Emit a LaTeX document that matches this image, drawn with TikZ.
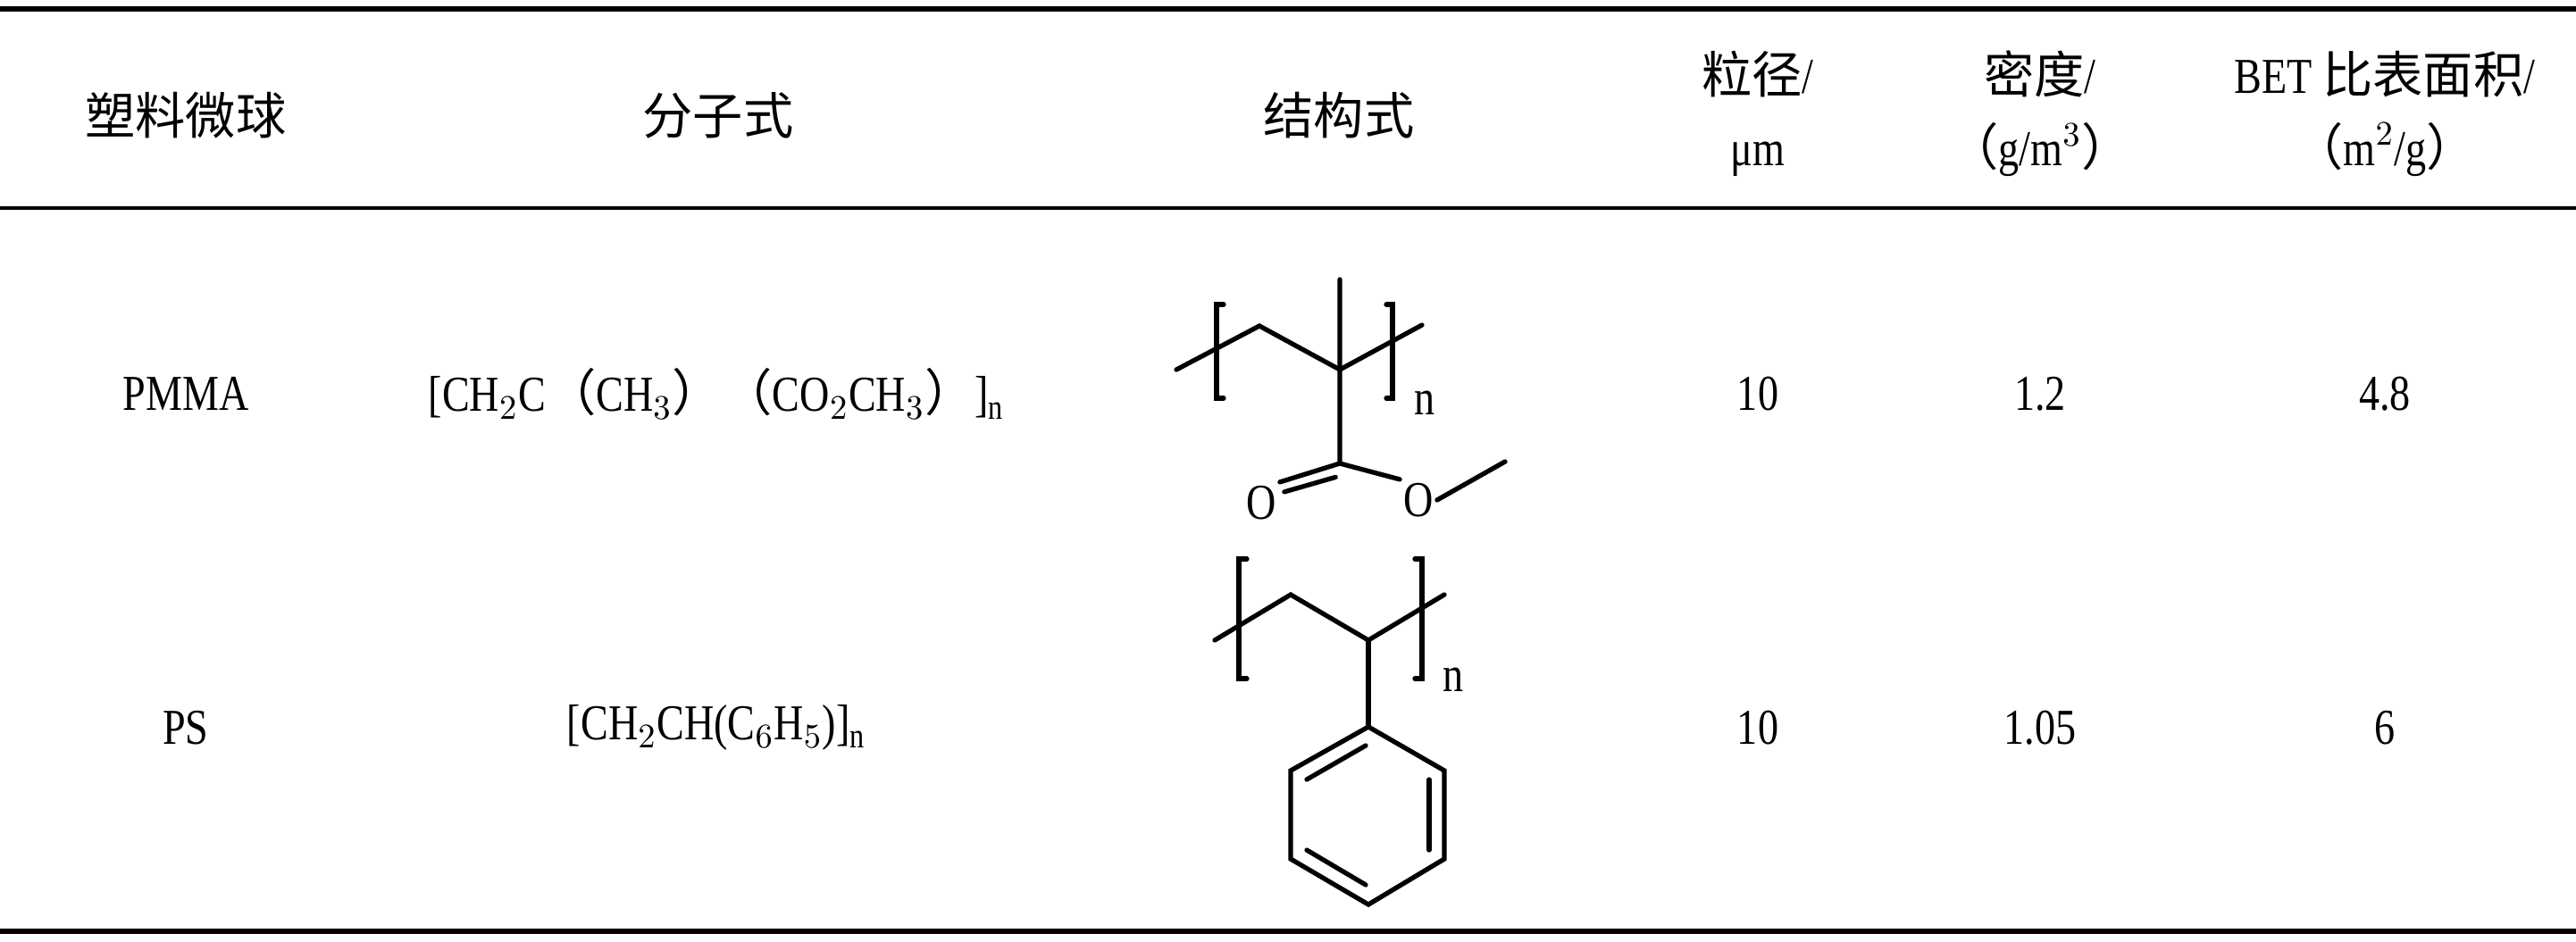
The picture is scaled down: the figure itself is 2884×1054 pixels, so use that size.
\documentclass[tikz,border=0pt]{standalone}
\usepackage{fontspec}
\setmainfont{Liberation Serif}[FakeStretch=0.82]
\newfontfamily\cjk{Noto Sans CJK SC}
\newcommand{\lp}{{\cjk （}}
\newcommand{\rp}{{\cjk ）}}
\usetikzlibrary{positioning}
\usetikzlibrary{calc}
\tikzset{
  cell/.style={font=\fontsize{16}{19}\selectfont, align=center, inner sep=0pt},
  bond/.style={line width=1.5pt, line cap=round},
  atom/.style={font=\fontsize{16}{19}\selectfont, inner sep=1pt, fill=white}
}
\begin{document}
\begin{tikzpicture}[x=0.01cm, y=-0.01cm]
	\useasboundingbox (0,0) rectangle (2884,1054);
	% rules
	\draw[line width=1.6pt] (0,10) -- (2884,10);
	\draw[line width=0.9pt] (0,233) -- (2884,233);
	\draw[line width=1.6pt] (0,1043) -- (2884,1043);
	% header
	\node[cell] (h1) at (208,129) {\cjk 塑料微球};
	\node[cell] (h2) at (804,129) {\cjk 分子式};
	\node[cell] (h3) at (1499,129) {\cjk 结构式};
	\node[cell] (h4) at (1968,127) {{\cjk 粒径}/\\[4pt]μm};
	\node[cell] (h5) at (2284,127) {{\cjk 密度}/\\[4pt]\lp g/m$^3$\rp};
	\node[cell] (h6) at (2670,127) {BET {\cjk 比表面积}/\\[4pt]\lp m$^2$/g\rp};
	% PMMA row
	\node[cell] (r1a) at (208,441) {PMMA};
	\node[cell] (r1b) at (804,441) {[CH$_2$C\lp CH$_3$\rp\lp CO$_2$CH$_3$\rp]$_\mathrm{n}$};
	\node[cell] (r1d) at (1968,441) {10};
	\node[cell] (r1e) at (2284,441) {1.2};
	\node[cell] (r1f) at (2670,441) {4.8};
	% PS row
	\node[cell] (r2a) at (208,815) {PS};
	\node[cell] (r2b) at (804,815) {[CH$_2$CH(C$_6$H$_5$)]$_\mathrm{n}$};
	\node[cell] (r2d) at (1968,815) {10};
	\node[cell] (r2e) at (2284,815) {1.05};
	\node[cell] (r2f) at (2670,815) {6};
	% PMMA structure
	\coordinate (pa) at (1317,414);
	\coordinate (pb) at (1410,365);
	\coordinate (pc) at (1500,414);
	\coordinate (pd) at (1592,364);
	\coordinate (pm) at (1500,313);
	\coordinate (pe) at (1500,519);
	\node[atom] (po1) at (1412,563) {O};
	\node[atom] (po2) at (1588,560) {O};
	\coordinate (pf) at (1685,517);
	\draw[bond] (pa) -- (pb) -- (pc) -- (pd);
	\draw[bond] (pm) -- (pc) -- (pe) -- (po2.north west);
	\draw[bond] (po2.east) -- (pf);
	\draw[bond] (pe) -- (po1.north east);
	\draw[bond] ($(pe)!0.1!(po1)+(4,11)$) -- ($(po1.north east)+(5,11)$);
	\draw[bond] (1370,341) -- (1362,341) -- (1362,446) -- (1370,446);
	\draw[bond] (1552,341) -- (1559,341) -- (1559,446) -- (1552,446);
	\node[atom, fill=none] (pn) at (1595,451) {n};
	% PS structure
	\coordinate (sa) at (1360,717);
	\coordinate (sb) at (1445,666);
	\coordinate (sc) at (1532,717);
	\coordinate (sd) at (1617,666);
	\draw[bond] (sa) -- (sb) -- (sc) -- (sd);
	\draw[bond] (1396,626) -- (1387,626) -- (1387,760) -- (1396,760);
	\draw[bond] (1584,626) -- (1592,626) -- (1592,760) -- (1584,760);
	\node[atom, fill=none] (sn) at (1627,761) {n};
	\coordinate (r0) at (1532,814);
	\coordinate (r1) at (1617,863);
	\coordinate (r2) at (1617,962);
	\coordinate (r3) at (1532,1013);
	\coordinate (r4) at (1445,962);
	\coordinate (r5) at (1445,863);
	\draw[bond] (sc) -- (r0);
	\draw[bond] (r0) -- (r1) -- (r2) -- (r3) -- (r4) -- (r5) -- cycle;
	\draw[bond] (1529,835) -- (1463,873);
	\draw[bond] (1600,873) -- (1600,952);
	\draw[bond] (1463,952) -- (1529,991);
\end{tikzpicture}
\end{document}
